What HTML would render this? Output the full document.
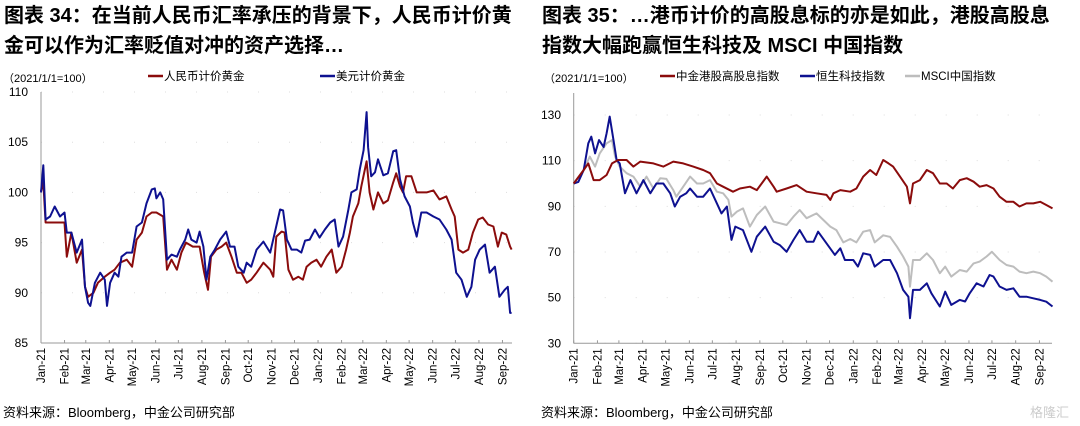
<!DOCTYPE html>
<html><head><meta charset="utf-8">
<style>
html,body{margin:0;padding:0;background:#fff;}
body{width:1080px;height:426px;overflow:hidden;position:relative;font-family:"Liberation Sans","Noto Sans CJK SC",sans-serif;}
.title{position:absolute;font-weight:bold;font-size:20px;line-height:30px;color:#000;white-space:nowrap;}
.src{position:absolute;font-size:13px;color:#000;top:402px;}
svg{position:absolute;left:0;top:0;}
</style></head><body>
<div class="title" style="left:4px;top:1px;">图表 34：在当前人民币汇率承压的背景下，人民币计价黄<br>金可以作为汇率贬值对冲的资产选择…</div>
<div class="title" style="left:542px;top:1px;">图表 35：…港币计价的高股息标的亦是如此，港股高股息<br>指数大幅跑赢恒生科技及 MSCI 中国指数</div>
<div class="src" style="left:3px;">资料来源：Bloomberg，中金公司研究部</div>
<div class="src" style="left:541px;">资料来源：Bloomberg，中金公司研究部</div>
<div style="position:absolute;left:1030px;top:402px;font-size:13px;color:#ccc;">格隆汇</div>
<svg id="chart" width="1080" height="426"></svg>
<script>
// ---- Left chart data (days since 2021-01-01, index 2021/1/1=100) ----
const months = ["Jan-21","Feb-21","Mar-21","Apr-21","May-21","Jun-21","Jul-21","Aug-21","Sep-21","Oct-21","Nov-21","Dec-21","Jan-22","Feb-22","Mar-22","Apr-22","May-22","Jun-22","Jul-22","Aug-22","Sep-22"];
const monthDays = [0,31,59,90,120,151,181,212,243,273,304,334,365,396,424,455,485,516,546,577,608];
const leftTicks = [85,90,95,100,105,110];
const rightTicks = [30,50,70,90,110,130];

const goldUsdDays = [0,3,6,12,18,25,31,34,40,47,54,58,62,65,71,78,84,87,91,97,102,106,113,120,126,133,139,146,150,152,157,161,166,172,179,183,190,194,198,205,209,214,218,223,229,236,244,249,255,260,267,271,277,284,293,302,308,315,319,324,330,337,343,348,354,361,367,374,381,387,392,398,405,409,416,420,425,429,431,435,440,444,451,457,464,468,473,479,486,490,495,501,508,517,525,534,541,547,554,561,567,572,578,585,591,598,604,611,615,618,620];
const goldUsd = [100,102.7,97.3,97.6,98.6,97.6,98,96,96,94,95.3,90.6,89,88.7,91,92,91.3,88.7,91,92,91.6,93.6,94,94,96.6,97,98.9,100.3,100.4,99.4,100,99.3,93.3,93.8,93.6,94.3,95.3,96.3,95.3,95,96.1,94.6,91.3,93.6,94.3,95.3,96.1,94.6,94.6,92.6,92,93,92.6,94.3,95.1,94,96,98.3,98.2,95.3,94.3,94.3,94,95.2,95.3,96.3,95.5,96.3,97,97.3,94.6,95.6,98.3,100,100.3,102.3,104.2,108,104.5,101.6,102,103.3,101.7,101.9,104.1,104.2,101.3,99.6,98.6,97,95.6,98,98,97.6,97.3,96.3,95.3,92,91.3,89.6,90.6,93.3,94.3,94.8,92,92.6,89.6,90.3,90.6,88,88];

const goldCnyDays = [0,3,6,12,18,25,31,34,40,47,54,58,62,69,75,84,91,97,104,113,120,126,133,139,146,152,161,166,172,179,185,191,200,209,215,220,224,231,238,244,251,258,264,271,277,284,293,302,306,310,317,321,326,332,339,345,350,356,363,369,376,383,389,396,402,407,411,418,422,429,433,438,444,451,457,464,468,473,477,481,488,495,501,508,517,525,534,541,545,550,556,563,569,576,582,589,596,602,607,613,618,620];
const goldCny = [100.1,101,97,97,97,97,97,93.6,96,93,94.3,90.6,89.6,90,91,91.6,92,92.3,93,93.3,92.6,95.3,96,97.6,98,98,97.6,92.3,93.3,92.3,94,95,94.6,94.6,92,90.3,93.6,94.3,94.6,95,93.6,92,92,91,91.3,92,93,92.3,91.6,95.6,96.1,96,92.3,91.3,91.6,91.3,92.6,93,93.3,92.6,93.6,94.3,92,92.6,94.3,96,97.6,98.9,100.6,103.1,100,98.3,100,98.9,99.2,101,101.9,100.6,100,101.6,101.6,100,100,100,100.2,99.3,99.6,98.3,97.6,94.3,94,94.3,96,97.3,97.5,96.8,96.6,94.6,96,95.8,94.6,94.3];

// ---- Right chart data ----
const hiDivDays = [0,13,19,26,34,43,50,58,69,78,87,104,117,130,143,156,169,178,187,195,208,217,230,239,252,261,265,278,291,304,317,330,335,339,348,361,369,378,387,395,404,411,417,426,435,439,443,452,461,469,478,487,495,504,513,522,530,539,548,556,565,574,582,591,600,609,617,625];
const hiDiv = [100,105.9,108.8,101.5,101.5,103.7,108.8,110.3,110.3,107.4,109.6,108.8,107.4,109.6,108.8,107.4,105.9,104.5,100,98.6,96.4,97.8,98.6,97.1,103,98.6,96.4,97.8,99.3,96.4,95.7,95,92.8,95.7,97.1,96.4,97.8,103,105.9,103.7,110.3,108.8,107.4,103,98.6,91.3,100,101.5,105.9,104.5,100,100,97.8,101.5,102.3,100.8,98.6,99.3,97.8,94.2,92,92,89.9,91.3,91.3,92,90.6,89.1];

const hsTechDays = [0,6,13,19,23,28,33,39,43,47,52,56,60,67,74,82,91,100,108,117,126,132,139,147,152,161,169,178,187,193,200,206,211,221,232,239,250,261,269,278,287,295,304,313,319,330,341,348,354,365,371,378,387,393,404,413,422,430,437,439,443,452,461,467,478,485,493,504,511,517,526,535,543,548,556,565,574,582,591,600,609,617,625];
const hsTech = [100,100.7,105.9,117.6,120.5,113.2,119,116,122,129.3,119,110.3,108.8,95.7,101.5,95.7,101.5,95.7,100,100,95.7,89.9,94.2,95.7,97.8,94.2,94.2,97.8,91.3,86.9,89.9,75.3,81.1,79.6,70.1,76.7,81.1,74.5,73,70.1,75.3,79.6,74.5,74.5,78.9,73.8,68.7,71.6,66.5,66.5,63.6,69.4,68.7,63.6,66.5,66.5,60.7,53.4,50.4,41,53.4,53.4,56.3,51.9,46.1,52.6,46.8,49,48.3,51.9,56.3,54.9,59.9,59.2,54.9,53.4,54.1,50.4,50.4,49.7,49,48.2,46.1];

const msciDays = [0,13,21,28,34,43,50,54,60,69,78,87,95,104,113,121,130,134,143,152,161,169,178,187,195,202,206,213,221,230,239,250,261,269,278,287,295,304,317,326,335,343,352,361,369,378,387,393,404,413,422,430,437,439,443,452,461,469,478,485,493,504,513,522,530,539,546,556,565,574,582,591,600,609,617,625];
const msci = [100,105.9,111.8,107.4,113.2,117.6,119,111.8,107.4,104.5,103,98.6,103,97.8,102.3,102,97.1,94.2,98.6,103,100,100,101.5,96.4,95.7,92.8,85.5,87.7,89.1,81.1,86.2,89.9,83.3,82.6,81.8,85.5,88.4,84.8,86.9,84,81.1,79.6,74.2,75.7,74.2,78.9,79.6,74.2,77.3,76.6,72.3,68,63.6,54.8,66.5,66.5,69.4,66.5,60.7,63.6,59.2,62.1,61.4,65,65.8,68,70.1,66.5,64.3,63.6,61.4,60.7,61.4,60.7,59.2,57];

const NS = "http://www.w3.org/2000/svg";
const svg = document.getElementById('chart');
function mk(tag, attrs, parent){ const e=document.createElementNS(NS,tag); for(const k in attrs) e.setAttribute(k,attrs[k]); (parent||svg).appendChild(e); return e; }

function drawChart(cfg){
  const g = mk('g',{});
  
  
  const xs = d => cfg.x0 + d*cfg.pxPerDay;
  const ys = v => cfg.yTop + (cfg.vMax - v)*(cfg.yBot-cfg.yTop)/(cfg.vMax-cfg.vMin);
  // grid dots
  cfg.ticks.forEach(t=>{
    const gl = mk('line',{x1:cfg.x0,x2:cfg.x1,y1:ys(t),y2:ys(t),stroke:'#ddd','stroke-width':1,'stroke-dasharray':'1 30'},g);
    
    
  });
  // axes
  const ya = mk('line',{x1:cfg.x0,x2:cfg.x0,y1:cfg.yAxisTop,y2:cfg.yBot,stroke:'#999','stroke-width':1},g);
  
  
  const xa = mk('line',{x1:cfg.x0,x2:cfg.x1,y1:cfg.yBot,y2:cfg.yBot,stroke:'#999','stroke-width':1},g);
  
  
  cfg.ticks.forEach(t=>{
    const tl = mk('text',{x:cfg.labelX,y:ys(t)+4,'text-anchor':'end','font-size':12,fill:'#000'},g);
    tl.textContent = t;
    
    
  });
  months.forEach((m,i)=>{
    const x = xs(monthDays[i]);
    const tk = mk('line',{x1:x,x2:x,y1:cfg.yBot,y2:cfg.yBot-3,stroke:'#999','stroke-width':1},g);
    
    
    const tl = mk('text',{x:0,y:0,'text-anchor':'end','font-size':11.5,fill:'#000',transform:`translate(${x+4},${cfg.yBot+5}) rotate(-90)`},g);
    tl.textContent = m;
    
    
  });
  cfg.series.forEach(s=>{
    const n = Math.min(s.days.length, s.vals.length);
    let d='';
    for(let i=0;i<n;i++) d += (i?'L':'M') + xs(s.days[i]).toFixed(1)+','+ys(s.vals[i]).toFixed(1);
    const p = mk('path',{d:d,fill:'none',stroke:s.color,'stroke-width':2,'stroke-linejoin':'round'},g);
    
    
  });
  const u = mk('text',{x:cfg.unitX,y:82,'font-size':11,fill:'#000'},g);
  u.textContent='（2021/1/1=100）';
  
  
  cfg.series.forEach(s=>{
    const lg = mk('g',{},g);
    
    
    mk('line',{x1:s.lx,x2:s.lx+15,y1:76,y2:76,stroke:s.color,'stroke-width':2.5},lg);
    const t = mk('text',{x:s.lx+16,y:80,'font-size':11.5,fill:'#000'},lg);
    t.textContent = s.label;
  });
}

drawChart({name:'left-gold-chart',x0:41,x1:512,pxPerDay:0.759,yTop:92,yBot:343,yAxisTop:92,vMin:85,vMax:110,ticks:leftTicks,labelX:28,unitX:3,
  series:[
    {name:'cny-gold-line',label:'人民币计价黄金',color:'#8b0c0c',days:goldCnyDays,vals:goldCny,lx:148},
    {name:'usd-gold-line',label:'美元计价黄金',color:'#0e1190',days:goldUsdDays,vals:goldUsd,lx:320}
  ]});
drawChart({name:'right-equity-chart',x0:573.7,x1:1052,pxPerDay:0.766,yTop:115,yBot:343.3,yAxisTop:93,vMin:30,vMax:130,ticks:rightTicks,labelX:561,unitX:544,
  series:[
    {name:'msci-china-line',label:'MSCI中国指数',color:'#bdbdbd',days:msciDays,vals:msci,lx:905},
    {name:'hstech-line',label:'恒生科技指数',color:'#0e1190',days:hsTechDays,vals:hsTech,lx:800},
    {name:'high-dividend-line',label:'中金港股高股息指数',color:'#8b0c0c',days:hiDivDays,vals:hiDiv,lx:660}
  ]});
</script>
</body></html>
